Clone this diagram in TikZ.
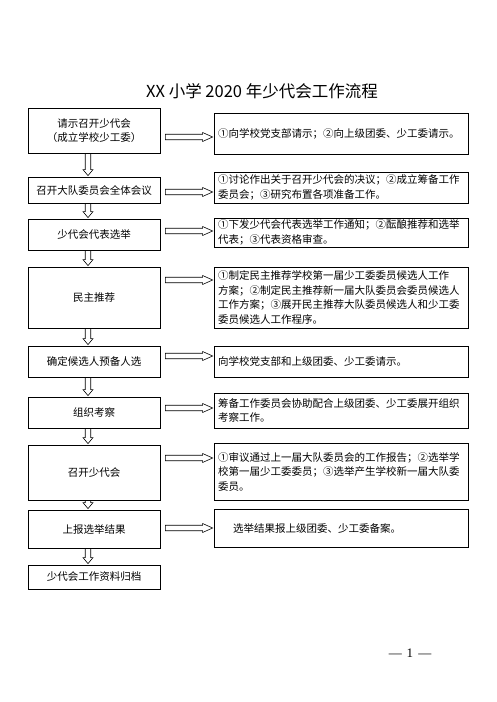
\documentclass[tikz,border=0pt]{standalone}
\usepackage{fontspec}
\setmainfont{Noto Sans CJK SC}
\newfontfamily\pageNoFont{Liberation Serif}
\usetikzlibrary{calc}

\begin{document}
\begin{tikzpicture}[
    x=1pt, y=1pt,
    leftBox/.style={
        rectangle, draw=black, line width=0.8pt,
        minimum width=132pt, inner sep=2pt, align=center,
        font=\fontsize{10.5pt}{14.5pt}\selectfont
    },
    rightBox/.style={
        rectangle, draw=black, line width=0.8pt,
        text width=246pt, inner xsep=4pt, inner ysep=2pt, align=left,
        font=\fontsize{10.5pt}{14.5pt}\selectfont
    },
    blockDown/.style={
        draw=black, line width=0.6pt,
        to path={
            ($(\tikztostart)+(-2.75,0)$) -- ($(\tikztotarget)+(-2.75,7)$)
            -- ($(\tikztotarget)+(-5,7)$) -- ($(\tikztotarget)+(0,1)$)
            -- ($(\tikztotarget)+(5,7)$) -- ($(\tikztotarget)+(2.75,7)$)
            -- ($(\tikztostart)+(2.75,0)$) -- cycle
        }
    },
    blockRight/.style={
        draw=black, line width=0.6pt,
        to path={
            ($(\tikztostart)+(5,2.75)$) -- ($(\tikztotarget)+(-11,2.75)$)
            -- ($(\tikztotarget)+(-11,4.5)$) -- ($(\tikztotarget)+(-1,0)$)
            -- ($(\tikztotarget)+(-11,-4.5)$) -- ($(\tikztotarget)+(-11,-2.75)$)
            -- ($(\tikztostart)+(5,-2.75)$) -- cycle
        }
    },
    titleText/.style={font=\fontsize{16.5pt}{20pt}\selectfont},
    pageText/.style={font=\pageNoFont\fontsize{13pt}{15pt}\selectfont}
]
    \useasboundingbox (0,0) rectangle (496,702);

    % Title
    \node[titleText] (title) at (262,611) {XX 小学 2020 年少代会工作流程};

    % Left column: steps
    \node[leftBox, minimum height=45pt] (l1) at (94,571.5) {请示召开少代会\\（成立学校少工委）};
    \node[leftBox, minimum height=26pt] (l2) at (94,512) {召开大队委员会全体会议};
    \node[leftBox, minimum height=31pt] (l3) at (94,467.5) {少代会代表选举};
    \node[leftBox, minimum height=61pt] (l4) at (94,404.5) {民主推荐};
    \node[leftBox, minimum height=31pt] (l5) at (94,340.5) {确定候选人预备人选};
    \node[leftBox, minimum height=31pt] (l6) at (94,289.5) {组织考察};
    \node[leftBox, minimum height=55pt] (l7) at (94,229.5) {召开少代会};
    \node[leftBox, minimum height=38pt] (l8) at (94,173) {上报选举结果};
    \node[leftBox, minimum height=24pt] (l9) at (94,125) {少代会工作资料归档};

    % Right column: details
    \node[rightBox, minimum height=41pt] (r1) at (341,568.5) {①向学校党支部请示；②向上级团委、少工委请示。};
    \node[rightBox, minimum height=31pt] (r2) at (341,514.5) {①讨论作出关于召开少代会的决议；②成立筹备工作\\委员会；③研究布置各项准备工作。};
    \node[rightBox, minimum height=29pt] (r3) at (341,469.5) {①下发少代会代表选举工作通知；②酝酿推荐和选举\\代表；③代表资格审查。};
    \node[rightBox, minimum height=61pt] (r4) at (341,404.5) {①制定民主推荐学校第一届少工委委员候选人工作\\方案；②制定民主推荐新一届大队委员会委员候选人\\工作方案；③展开民主推荐大队委员候选人和少工委\\委员候选人工作程序。};
    \node[rightBox, minimum height=31pt] (r5) at (341,340.5) {向学校党支部和上级团委、少工委请示。};
    \node[rightBox, minimum height=35pt] (r6) at (341,291.5) {筹备工作委员会协助配合上级团委、少工委展开组织\\考察工作。};
    \node[rightBox, minimum height=57pt] (r7) at (341,230.5) {①审议通过上一届大队委员会的工作报告；②选举学\\校第一届少工委委员；③选举产生学校新一届大队委\\委员。};
    \node[rightBox, minimum height=38pt] (r8) at (341,174) {\hspace*{15pt}选举结果报上级团委、少工委备案。};

    % Rows of the side arrows
    \coordinate (h1) at (0,565);
    \coordinate (h2) at (0,510);
    \coordinate (h3) at (0,471);
    \coordinate (h4) at (0,422);
    \coordinate (h5) at (0,346);
    \coordinate (h6) at (0,294);
    \coordinate (h7) at (0,244);
    \coordinate (h8) at (0,174);

    % Down arrows
    \draw[blockDown] ([xshift=-6pt]l1.south) to ([xshift=-6pt]l2.north);
    \draw[blockDown] ([xshift=-6pt]l2.south) to ([xshift=-6pt]l3.north);
    \draw[blockDown] ([xshift=-6pt]l3.south) to ([xshift=-6pt]l4.north);
    \draw[blockDown] ([xshift=-6pt]l4.south) to ([xshift=-6pt]l5.north);
    \draw[blockDown] ([xshift=-6pt]l5.south) to ([xshift=-6pt]l6.north);
    \draw[blockDown] ([xshift=-6pt]l6.south) to ([xshift=-6pt]l7.north);
    \draw[blockDown] ([xshift=-6pt]l7.south) to ([xshift=-6pt]l8.north);
    \draw[blockDown] ([xshift=-6pt]l8.south) to ([xshift=-6pt]l9.north);

    % Side arrows
    \draw[blockRight] (l1.east |- h1) to (r1.west |- h1);
    \draw[blockRight] (l2.east |- h2) to (r2.west |- h2);
    \draw[blockRight] (l3.east |- h3) to (r3.west |- h3);
    \draw[blockRight] (l4.east |- h4) to (r4.west |- h4);
    \draw[blockRight] (l5.east |- h5) to (r5.west |- h5);
    \draw[blockRight] (l6.east |- h6) to (r6.west |- h6);
    \draw[blockRight] (l7.east |- h7) to (r7.west |- h7);
    \draw[blockRight] (l8.east |- h8) to (r8.west |- h8);

    % Page number
    \node[pageText] (pageNo) at (410,49) {—\hspace{5pt}1\hspace{5pt}—};

\end{tikzpicture}
\end{document}
